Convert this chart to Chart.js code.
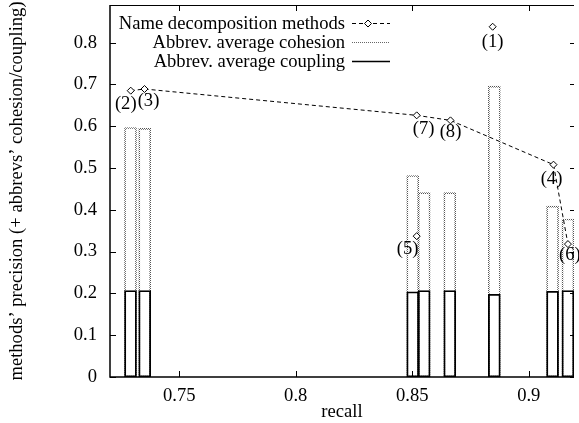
<!DOCTYPE html>
<html>
<head>
<meta charset="utf-8">
<script src="https://cdn.jsdelivr.net/npm/chart.js@4.4.0/dist/chart.umd.min.js"></script>
<style>
html, body { margin: 0; padding: 0; background: #fff; }
</style>
</head>
<body>
<canvas id="chart" width="579" height="423"></canvas>
<script>
// methods (1)..(8)
var methodLabels = ['(1)', '(2)', '(3)', '(4)', '(5)', '(6)', '(7)', '(8)'];
var recall = [0.8845, 0.7292, 0.7351, 0.9106, 0.8519, 0.9168, 0.8519, 0.8664];
var precision = [0.838, 0.685, 0.689, 0.508, 0.337, 0.318, 0.626, 0.614];
// methods on the dashed front, in drawing order
var frontOrder = [1, 2, 6, 7, 3, 5];
// abbreviation bars (5 and 7 share a recall, bars sit side by side)
var barRecall = [0.8852, 0.7291, 0.7352, 0.9102, 0.8502, 0.9168, 0.8551, 0.8661];
var cohesion = [0.696, 0.597, 0.595, 0.409, 0.482, 0.378, 0.441, 0.441];
var coupling = [0.198, 0.207, 0.207, 0.205, 0.204, 0.207, 0.207, 0.207];
var xTicks = [0.75, 0.8, 0.85, 0.9];
var yTicks = [0, 0.1, 0.2, 0.3, 0.4, 0.5, 0.6, 0.7, 0.8];

var FONT = 'Liberation Serif';
var FSIZE = 18.6;
Chart.defaults.font.family = FONT;
Chart.defaults.font.size = FSIZE;
Chart.defaults.color = '#000';

function pts(xs, ys, idx) {
    return idx.map(function (i) { return { x: xs[i], y: ys[i] }; });
}
var all = methodLabels.map(function (l, i) { return i; });

var ctx = document.getElementById('chart').getContext('2d');

function dotPattern() {
    var c = document.createElement('canvas');
    c.width = 2; c.height = 2;
    var p = c.getContext('2d');
    p.fillStyle = '#555';
    p.fillRect(0, 0, 1, 1);
    p.fillRect(1, 1, 1, 1);
    return ctx.createPattern(c, 'repeat');
}
var dots = dotPattern();

// point labels (1)..(8), offset in px from the marker
var labelOffset = [[0, 14], [-5, 12], [4, 11], [-2, 13], [-9, 11], [2, 10], [7, 12], [0, 10]];
var pointLabels = {
    id: 'pointLabels',
    afterDatasetsDraw: function (chart) {
        var c = chart.ctx, xs = chart.scales.x, ys = chart.scales.y;
        c.save();
        c.font = FSIZE + 'px "' + FONT + '"';
        c.fillStyle = '#000';
        c.textAlign = 'center';
        c.textBaseline = 'middle';
        methodLabels.forEach(function (l, i) {
            var px = xs.getPixelForValue(recall[i]) + labelOffset[i][0];
            var py = ys.getPixelForValue(precision[i]) + labelOffset[i][1] + 1.5;
            c.fillText(l, px, py);
        });
        c.restore();
    }
};

// gnuplot-like frame with inward ticks
var frame = {
    id: 'frame',
    afterDraw: function (chart) {
        var c = chart.ctx, a = chart.chartArea, xs = chart.scales.x, ys = chart.scales.y;
        c.save();
        c.strokeStyle = '#000';
        c.lineWidth = 1;
        c.beginPath();
        c.moveTo(a.left, a.top + 0.5); c.lineTo(a.right, a.top + 0.5);
        c.stroke();
        c.lineWidth = 1.5;
        c.beginPath();
        c.moveTo(a.left, a.top); c.lineTo(a.left, a.bottom); c.lineTo(a.right, a.bottom);
        c.stroke();
        c.lineWidth = 1;
        c.beginPath();
        xTicks.forEach(function (v) {
            var px = Math.round(xs.getPixelForValue(v)) + 0.5;
            c.moveTo(px, a.bottom); c.lineTo(px, a.bottom - 6);
            c.moveTo(px, a.top); c.lineTo(px, a.top + 6);
        });
        yTicks.forEach(function (v) {
            var py = Math.round(ys.getPixelForValue(v)) + 0.5;
            c.moveTo(a.left, py); c.lineTo(a.left + 6, py);
            c.moveTo(a.right - 4, py); c.lineTo(a.right, py);
        });
        c.stroke();
        c.restore();
    }
};

// key in the top left corner, text right aligned with samples after it
var key = {
    id: 'key',
    afterDraw: function (chart) {
        var c = chart.ctx;
        var rows = [chart.data.datasets[0].label, chart.data.datasets[2].label, chart.data.datasets[3].label];
        var tx = 345, sx0 = 352, sx1 = 390, y0 = 23, dy = 19;
        c.save();
        c.font = FSIZE + 'px "' + FONT + '"';
        c.fillStyle = '#000';
        c.textAlign = 'right';
        c.textBaseline = 'middle';
        rows.forEach(function (t, i) { c.fillText(t, tx, y0 + i * dy + 1); });
        // methods: dashed + diamond
        var y = y0 + 0.5;
        c.strokeStyle = '#000';
        c.lineWidth = 1;
        c.setLineDash([4, 3]);
        c.beginPath(); c.moveTo(sx0, y); c.lineTo(sx1, y); c.stroke();
        c.setLineDash([]);
        var mx = (sx0 + sx1) / 2 - 3;
        c.fillStyle = '#fff';
        c.beginPath();
        c.moveTo(mx - 3.5, y); c.lineTo(mx, y - 3.5); c.lineTo(mx + 3.5, y); c.lineTo(mx, y + 3.5); c.closePath();
        c.fill(); c.stroke();
        // cohesion: dotted
        y = Math.round(y0 + dy) + 0.5;
        c.strokeStyle = '#666';
        c.setLineDash([1, 1]);
        c.beginPath(); c.moveTo(sx0, y); c.lineTo(sx1, y); c.stroke();
        // coupling: solid
        y = Math.round(y0 + 2 * dy) + 0.5;
        c.setLineDash([]);
        c.strokeStyle = '#000';
        c.lineWidth = 1.5;
        c.beginPath(); c.moveTo(sx0, y); c.lineTo(sx1, y); c.stroke();
        c.restore();
    }
};

new Chart(ctx, {
    type: 'bar',
    data: {
        datasets: [{
            type: 'line',
            label: 'Name decomposition methods',
            data: pts(recall, precision, frontOrder),
            borderColor: '#000',
            borderWidth: 1,
            borderDash: [4, 3],
            tension: 0,
            pointStyle: 'rectRot',
            pointRadius: 3.5,
            pointBorderWidth: 1,
            pointBackgroundColor: '#fff',
            pointBorderColor: '#000',
            order: 1
        }, {
            type: 'line',
            label: 'other methods',
            data: pts(recall, precision, [0, 4]),
            showLine: false,
            pointStyle: 'rectRot',
            pointRadius: 3.5,
            pointBorderWidth: 1,
            pointBackgroundColor: '#fff',
            pointBorderColor: '#000',
            order: 0
        }, {
            label: 'Abbrev. average cohesion',
            data: pts(barRecall, cohesion, all),
            backgroundColor: 'rgba(0,0,0,0)',
            borderColor: dots,
            borderWidth: 1,
            borderSkipped: false,
            barThickness: 12,
            grouped: false,
            order: 3
        }, {
            label: 'Abbrev. average coupling',
            data: pts(barRecall, coupling, all),
            backgroundColor: 'rgba(0,0,0,0)',
            borderColor: '#000',
            borderWidth: 1.2,
            borderSkipped: false,
            barThickness: 12,
            grouped: false,
            order: 2
        }]
    },
    options: {
        responsive: false,
        animation: false,
        devicePixelRatio: 1,
        layout: { padding: { top: 5, left: 0, right: 0, bottom: 0 } },
        plugins: { legend: { display: false }, tooltip: { enabled: false } },
        scales: {
            x: {
                type: 'linear',
                offset: false,
                min: 0.7203,
                max: 0.9194,
                afterBuildTicks: function (s) { s.ticks = xTicks.map(function (v) { return { value: v }; }); },
                afterFit: function (s) { s.height = 46; s.paddingLeft = 0; s.paddingRight = 0; },
                grid: { display: false, drawTicks: false },
                border: { display: false },
                ticks: { padding: 8, maxRotation: 0, autoSkip: false, callback: function (v) { return String(v); } },
                title: { display: true, text: 'recall', padding: { top: 0, bottom: 0 } }
            },
            y: {
                min: 0,
                max: 0.89,
                afterBuildTicks: function (s) { s.ticks = yTicks.map(function (v) { return { value: v }; }); },
                afterFit: function (s) { s.width = 110; s.paddingTop = 0; s.paddingBottom = 0; },
                grid: { display: false, drawTicks: false },
                border: { display: false },
                ticks: { padding: 13, autoSkip: false, callback: function (v) { return String(v); } },
                title: { display: true, text: 'methods’ precision (+ abbrevs’ cohesion/coupling)', padding: { top: 6, bottom: 0 } }
            }
        }
    },
    plugins: [pointLabels, frame, key]
});
</script>
</body>
</html>
